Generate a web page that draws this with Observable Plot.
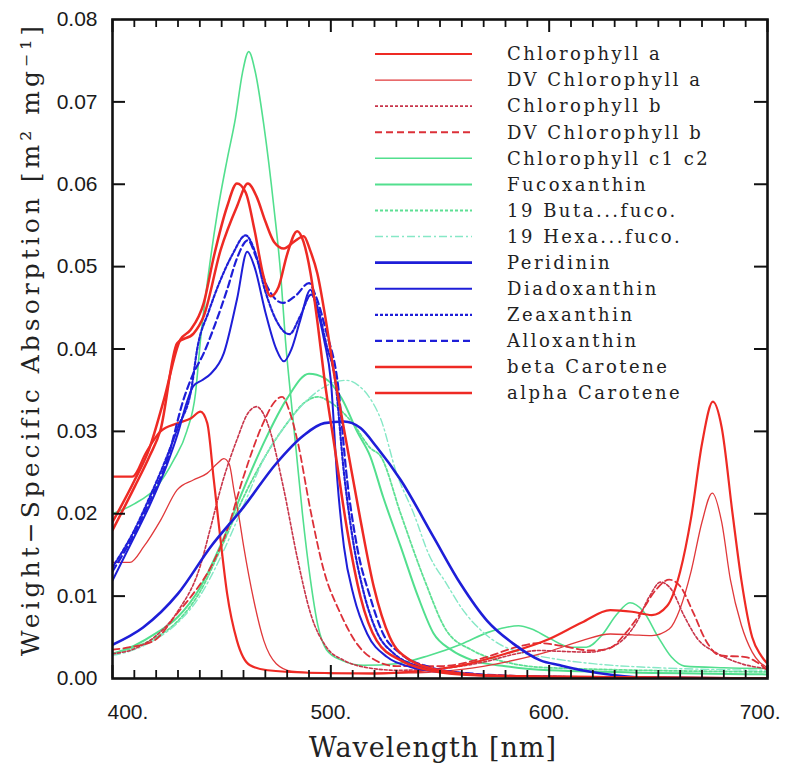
<!DOCTYPE html>
<html><head><meta charset="utf-8">
<script src="https://cdn.jsdelivr.net/npm/d3@7"></script>
<script src="https://cdn.jsdelivr.net/npm/@observablehq/plot@0.6"></script>
<style>
body{margin:0;background:#fff;}
#chart{position:relative;width:790px;height:769px;}
</style></head><body><div id="chart"></div>
<script>
// ---- data: [wavelength nm, absorption m2 mg-1] ----
const chlA = [[400,0.0245],[409,0.0245],[415.5,0.0275],[422,0.0300],[430,0.0310],[436,0.0316],[440.3,0.0324],[443.4,0.0310],[446.4,0.0241],[449.5,0.0168],[452.5,0.0103],[457,0.0046],[463,0.0016],[471,0.0010],[490,0.0007],[520,0.0006],[540,0.0009],[560,0.0016],[580,0.0030],[600,0.0048],[615,0.0068],[628,0.0083],[638,0.0081],[647,0.0077],[654,0.0088],[660,0.0130],[665,0.0195],[670,0.0285],[675,0.0336],[679,0.0305],[684,0.0200],[688,0.0120],[693,0.0050],[697,0.0028],[700,0.0018]];
const dvChlA = [[400,0.0141],[408,0.0141],[414.3,0.0160],[422,0.0192],[429.6,0.0229],[437,0.0241],[443.3,0.0249],[448,0.0261],[451,0.0267],[453.5,0.0260],[455.6,0.0229],[458,0.0195],[460.1,0.0160],[464.7,0.0095],[469.3,0.0046],[475,0.0018],[482,0.0009],[500,0.0006],[540,0.0007],[560,0.0011],[580,0.0020],[600,0.0033],[615,0.0046],[628,0.0054],[638,0.0053],[647,0.0052],[655,0.0060],[660,0.0085],[665,0.0130],[670,0.0190],[674.7,0.0225],[679,0.0190],[683,0.0120],[688,0.0065],[693,0.0032],[700,0.0013]];
const chlB = [[400,0.0030],[410,0.0036],[420,0.0052],[430,0.0082],[440,0.0135],[445,0.0184],[450,0.0235],[457,0.0290],[462,0.0322],[466,0.0330],[469,0.0322],[472,0.0302],[478.5,0.0229],[484.6,0.0147],[490.7,0.0079],[498,0.0038],[506,0.0022],[515,0.0014],[530,0.0010],[550,0.0012],[570,0.0020],[585,0.0030],[595,0.0034],[605,0.0033],[618,0.0032],[630,0.0040],[640,0.0068],[646,0.0100],[651,0.0117],[656,0.0108],[662,0.0075],[668,0.0048],[676,0.0032],[688,0.0018],[700,0.0012]];
const dvChlB = [[400,0.0035],[408,0.0038],[419,0.0046],[429.6,0.0079],[437,0.0103],[445,0.0135],[452.5,0.0180],[460,0.0245],[469,0.0310],[474,0.0335],[477.7,0.0342],[481,0.0325],[484.6,0.0290],[490.7,0.0204],[496.8,0.0131],[504.4,0.0079],[512,0.0042],[518,0.0026],[530,0.0015],[550,0.0015],[570,0.0025],[585,0.0038],[595,0.0043],[605,0.0040],[619,0.0034],[627,0.0036],[635,0.0055],[642,0.0080],[649,0.0108],[655,0.0120],[660,0.0112],[666,0.0080],[672,0.0045],[678,0.0028],[690,0.0026],[695,0.0020],[700,0.0010]];
const chlC = [[400,0.0200],[410,0.0212],[420,0.0232],[428,0.0265],[434,0.0300],[438,0.0346],[440.3,0.0411],[444,0.0492],[448,0.0565],[452.5,0.0630],[456.3,0.0680],[459.5,0.0735],[462.4,0.0761],[465.5,0.0735],[469.3,0.0672],[474,0.0570],[477,0.0492],[479.2,0.0411],[481.5,0.0346],[484,0.0280],[487,0.0200],[490.7,0.0119],[494,0.0065],[498,0.0035],[505,0.0022],[515,0.0016],[530,0.0018],[545,0.0028],[560,0.0042],[572,0.0056],[580,0.0062],[586,0.0064],[592,0.0060],[600,0.0049],[610,0.0038],[617,0.0038],[624,0.0052],[631,0.0078],[637,0.0092],[643,0.0082],[650,0.0050],[656,0.0026],[662,0.0015],[680,0.0013],[700,0.0012]];
const fuco = [[400,0.0030],[410,0.0040],[420,0.0055],[430,0.0075],[440,0.0110],[450,0.0165],[460,0.0230],[470,0.0290],[480,0.0340],[490,0.0370],[497,0.0365],[505,0.0340],[512,0.0300],[518,0.0270],[524,0.0220],[532,0.0160],[540,0.0099],[547,0.0055],[555,0.0035],[565,0.0022],[580,0.0015],[600,0.0010],[700,0.0005]];
const but19 = [[400,0.0030],[410,0.0038],[420,0.0050],[430,0.0070],[440,0.0105],[450,0.0160],[460,0.0220],[470,0.0270],[480,0.0310],[488,0.0335],[494,0.0342],[500,0.0335],[510,0.0310],[518,0.0280],[523,0.0269],[532,0.0200],[543,0.0119],[553,0.0058],[565,0.0034],[580,0.0020],[600,0.0013],[700,0.0008]];
const hex19 = [[400,0.0028],[410,0.0035],[420,0.0048],[430,0.0068],[440,0.0100],[450,0.0150],[460,0.0210],[470,0.0270],[480,0.0310],[490,0.0340],[500,0.0358],[507,0.0362],[513,0.0355],[518,0.0340],[523,0.0314],[530,0.0250],[538,0.0200],[545,0.0150],[553,0.0115],[560,0.0085],[569,0.0058],[577,0.0042],[584,0.0034],[600,0.0025],[620,0.0018],[650,0.0013],[700,0.0010]];
const peri = [[400,0.0041],[414,0.0062],[430,0.0103],[445,0.0160],[460,0.0208],[475,0.0261],[487.5,0.0295],[497,0.0310],[506,0.0312],[513.6,0.0304],[521,0.0281],[532,0.0241],[547,0.0172],[559.4,0.0115],[571.6,0.0070],[583.7,0.0042],[596,0.0022],[605,0.0016],[615,0.0010],[630,0.0004],[645,0.0001],[700,0.0000]];
const diadino = [[400,0.0119],[410,0.0172],[417,0.0210],[425,0.0260],[430,0.0298],[434,0.0335],[437,0.0355],[441,0.0362],[445,0.0370],[451,0.0395],[457,0.0460],[461.7,0.0518],[465,0.0500],[470,0.0445],[475,0.0400],[478.5,0.0385],[482,0.0400],[486,0.0435],[490.7,0.0472],[493,0.0455],[497,0.0410],[500,0.0362],[503,0.0240],[506,0.0160],[510.6,0.0099],[516.7,0.0054],[525.8,0.0026],[536.5,0.0014],[550,0.0008],[570,0.0004],[600,0.0002],[700,0.0000]];
const zea = [[400,0.0135],[410,0.0180],[417,0.0220],[425,0.0270],[430,0.0305],[436,0.0350],[439,0.0403],[444,0.0445],[449.5,0.0484],[455,0.0515],[461,0.0538],[465,0.0520],[470,0.0470],[476,0.0430],[481,0.0418],[486,0.0440],[491,0.0466],[494,0.0450],[498,0.0405],[502,0.0362],[506,0.0250],[510,0.0170],[515,0.0105],[521,0.0057],[529,0.0030],[540,0.0015],[555,0.0008],[580,0.0003],[700,0.0000]];
const allo = [[400,0.0130],[410,0.0176],[417,0.0215],[425,0.0265],[432.7,0.0340],[437,0.0370],[441.8,0.0395],[447,0.0430],[452.5,0.0472],[457,0.0510],[462,0.0532],[466,0.0510],[471,0.0475],[478,0.0456],[484,0.0465],[490,0.0480],[493,0.0465],[498,0.0420],[503,0.0362],[507.5,0.0240],[512,0.0160],[518,0.0099],[524,0.0054],[532,0.0030],[545,0.0014],[560,0.0007],[600,0.0002],[700,0.0000]];
const betaCar = [[400,0.0190],[410,0.0240],[417,0.0280],[423.5,0.0338],[431,0.0411],[435.7,0.0423],[441.8,0.0456],[446.4,0.0512],[452.5,0.0573],[457,0.0601],[461,0.0590],[465,0.0545],[469,0.0490],[472.4,0.0464],[476,0.0475],[480,0.0515],[484.6,0.0543],[487.5,0.0530],[490.7,0.0492],[494,0.0430],[497,0.0365],[501.5,0.0285],[507.5,0.0180],[513.6,0.0099],[521,0.0046],[532,0.0022],[545,0.0010],[560,0.0005],[600,0.0002],[700,0.0000]];
const alphaCar = [[400,0.0180],[410,0.0232],[417,0.0270],[422,0.0302],[429.6,0.0407],[437.2,0.0419],[441.8,0.0440],[449.5,0.0520],[457,0.0573],[462,0.0601],[466,0.0585],[470,0.0555],[474,0.0530],[478.5,0.0522],[483,0.0530],[487.6,0.0537],[490.5,0.0520],[493.8,0.0492],[498,0.0430],[501.5,0.0370],[504.5,0.0325],[507.5,0.0281],[513.6,0.0192],[519.7,0.0111],[527,0.0050],[536.5,0.0022],[550,0.0010],[570,0.0004],[600,0.0002],[700,0.0000]];

const names = ["Chlorophyll a","DV Chlorophyll a","Chlorophyll b","DV Chlorophyll b","Chlorophyll c1 c2","Fucoxanthin","19 Buta...fuco.","19 Hexa...fuco.","Peridinin","Diadoxanthin","Zeaxanthin","Alloxanthin","beta Carotene","alpha Carotene"];
const xMajorTicks = [400,500,600,700];
const xMinorTicks = d3.range(410,700,10).filter(d => d % 100 !== 0);
const yTicks = [0.01,0.02,0.03,0.04,0.05,0.06,0.07];
const yLabels = [0,0.01,0.02,0.03,0.04,0.05,0.06,0.07,0.08];

const RED="#ee2a24", GREEN="#52df8e", BLUE="#1e1ed8";
const series = [
  {data: chlA,    color: RED,       w: 2.2, dash: null},
  {data: dvChlA,  color: "#e0383a", w: 1.3, dash: null},
  {data: chlB,    color: "#c8354a", w: 1.6, dash: "3,2"},
  {data: dvChlB,  color: "#dc3038", w: 1.8, dash: "7,4"},
  {data: chlC,    color: GREEN,     w: 1.6, dash: null},
  {data: fuco,    color: GREEN,     w: 2.0, dash: null},
  {data: but19,   color: "#5ee094", w: 1.8, dash: "3,2"},
  {data: hex19,   color: "#86e8c6", w: 1.4, dash: "8,3,2,3"},
  {data: peri,    color: BLUE,      w: 2.6, dash: null},
  {data: diadino, color: BLUE,      w: 2.0, dash: null},
  {data: zea,     color: BLUE,      w: 2.2, dash: "3,2"},
  {data: allo,    color: BLUE,      w: 2.2, dash: "7,4"},
  {data: betaCar, color: RED,       w: 2.5, dash: null},
  {data: alphaCar,color: RED,       w: 2.5, dash: null}
].map((s,i) => ({...s, name: names[i]}));

const W=790, H=769, mL=112, mR=23, mT=19, mB=91;
const innerW = W-mL-mR, innerH = H-mT-mB;
const drawOrder = [4,5,6,7,1,2,3,0,8,9,10,11,12,13];
const SERIF = "DejaVu Serif, serif";
const SANS = "Liberation Sans, Arial, sans-serif";

const marks = [];
drawOrder.forEach(i => {
  const s = series[i];
  marks.push(Plot.line(s.data, {x: d=>d[0], y: d=>d[1], stroke: s.color, strokeWidth: s.w, strokeDasharray: s.dash, curve: "monotone-x", clip: true}));
});
// ticks (inward)
marks.push(Plot.ruleX(xMinorTicks, {x: d=>d, insetTop: innerH-8, stroke: "#111", strokeWidth: 1.8}));
marks.push(Plot.ruleX(xMinorTicks, {x: d=>d, insetBottom: innerH-8, stroke: "#111", strokeWidth: 1.8}));
marks.push(Plot.ruleX(xMajorTicks, {x: d=>d, insetTop: innerH-13, stroke: "#111", strokeWidth: 2}));
marks.push(Plot.ruleX(xMajorTicks, {x: d=>d, insetBottom: innerH-13, stroke: "#111", strokeWidth: 2}));
marks.push(Plot.ruleY(yTicks, {y: d=>d, insetRight: innerW-13, stroke: "#111", strokeWidth: 2}));
marks.push(Plot.ruleY(yTicks, {y: d=>d, insetLeft: innerW-13, stroke: "#111", strokeWidth: 2}));
marks.push(Plot.frame({stroke: "#111", strokeWidth: 2.6}));
// tick labels
const xl = {text: d => d + ".", frameAnchor: "bottom", dy: 34, fontSize: 21, fill: "#1a1a1a", fontFamily: SANS, lineAnchor: "middle"};
marks.push(Plot.text([xMajorTicks[0]], {...xl, x: d=>d, textAnchor: "start", dx: -5}));
marks.push(Plot.text(xMajorTicks.slice(1,-1), {...xl, x: d=>d}));
marks.push(Plot.text([xMajorTicks[xMajorTicks.length-1]], {...xl, x: d=>d, textAnchor: "end", dx: 13}));
marks.push(Plot.text(yLabels, {y: d=>d, text: d => d.toFixed(2), frameAnchor: "left", dx: -15, textAnchor: "end", fontSize: 21, fill: "#1a1a1a", fontFamily: SANS, lineAnchor: "middle"}));
// axis titles
marks.push(Plot.text(["Wavelength [nm]"], {frameAnchor: "bottom", dy: 70, dx: -7, textAnchor: "middle", fontSize: 27, fontFamily: SERIF, fill: "#222", lineAnchor: "middle", text: d=>d}));
marks.push(Plot.text(["Weight\u2212Specific Absorption [m\u00b2 mg\u207b\u00b9]"], {frameAnchor: "left", dx: -82, dy: -10, rotate: -90, textAnchor: "middle", fontSize: 25, fontFamily: SERIF, fill: "#222", lineAnchor: "middle", text: d=>d}));

const plot = Plot.plot({
  width: W, height: H, marginLeft: mL, marginRight: mR, marginTop: mT, marginBottom: mB,
  x: {domain: [400,700], axis: null},
  y: {domain: [0,0.08], axis: null},
  style: {background: "#fff", overflow: "visible"},
  marks
});
document.getElementById("chart").appendChild(plot);

// letter spacing on the serif axis titles (monospaced look of the original)
d3.select(plot).selectAll("text").each(function() {
  const t = this.textContent;
  if (t === "Wavelength [nm]") this.style.letterSpacing = "1px";
  else if (t.startsWith("Weight")) this.style.letterSpacing = "4px";
});

// legend inside the frame (top right)
const svg = d3.select(plot);
const lg = svg.append("g").attr("text-anchor", "start");
series.forEach((s,i) => {
  const y = 54 + i*26.08;
  lg.append("line").attr("x1",375).attr("x2",472).attr("y1",y).attr("y2",y)
    .attr("stroke",s.color).attr("stroke-width",s.w).attr("stroke-dasharray",s.dash);
  lg.append("text").attr("x",507).attr("y",y).attr("dy","0.35em")
    .attr("text-anchor","start")
    .attr("font-family",SERIF).attr("font-size",18).attr("fill","#222")
    .style("letter-spacing","2.5px")
    .text(s.name);
});
</script></body></html>
